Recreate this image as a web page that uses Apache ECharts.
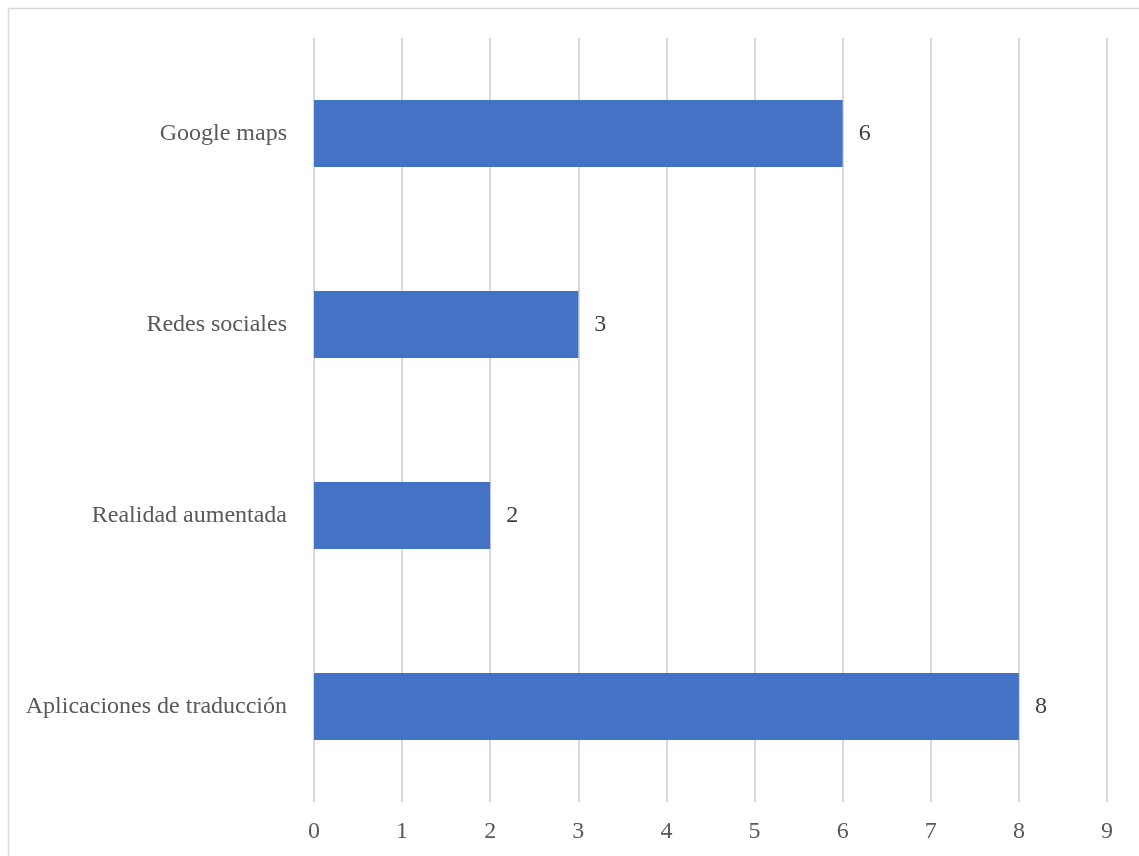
<!DOCTYPE html>
<html><head><meta charset="utf-8">
<script src="https://cdn.jsdelivr.net/npm/echarts@6/dist/echarts.min.js"></script>
<style>html,body{margin:0;padding:0;background:#fff}#c{width:1139px;height:856px}</style>
</head><body><div id="c"></div>
<script>
const categories = ["Aplicaciones de traducción", "Realidad aumentada", "Redes sociales", "Google maps"];
const values = [8, 2, 3, 6];
const xTicks = [0, 1, 2, 3, 4, 5, 6, 7, 8, 9];

const font = "'Liberation Serif', 'Times New Roman', serif";
const chart = echarts.init(document.getElementById('c'), null, {renderer: 'canvas'});
chart.setOption({
  animation: false,
  backgroundColor: '#ffffff',
  graphic: [{
    type: 'rect', silent: true,
    shape: {x: 8.5, y: 8.5, width: 1200, height: 1000},
    style: {fill: 'none', stroke: '#d9d9d9', lineWidth: 1.5}
  }],
  grid: {left: 314, right: 32, top: 38, bottom: 54, containLabel: false},
  xAxis: {
    type: 'value', min: xTicks[0], max: xTicks[xTicks.length - 1], interval: 1,
    axisLine: {show: false}, axisTick: {show: false},
    splitLine: {show: true, lineStyle: {color: '#d9d9d9', width: 2}},
    axisLabel: {color: '#595959', fontFamily: font, fontSize: 24, margin: 18}
  },
  yAxis: {
    type: 'category', data: categories,
    axisLine: {show: false}, axisTick: {show: false},
    axisLabel: {color: '#595959', fontFamily: font, fontSize: 24, margin: 27, padding: [4, 0, 0, 0]}
  },
  series: [{
    type: 'bar', data: values, barWidth: 67,
    itemStyle: {color: '#4472c4'},
    label: {show: true, position: 'right', distance: 16, color: '#404040', fontFamily: font, fontSize: 24, padding: [4, 0, 0, 0]}
  }]
});
</script></body></html>
